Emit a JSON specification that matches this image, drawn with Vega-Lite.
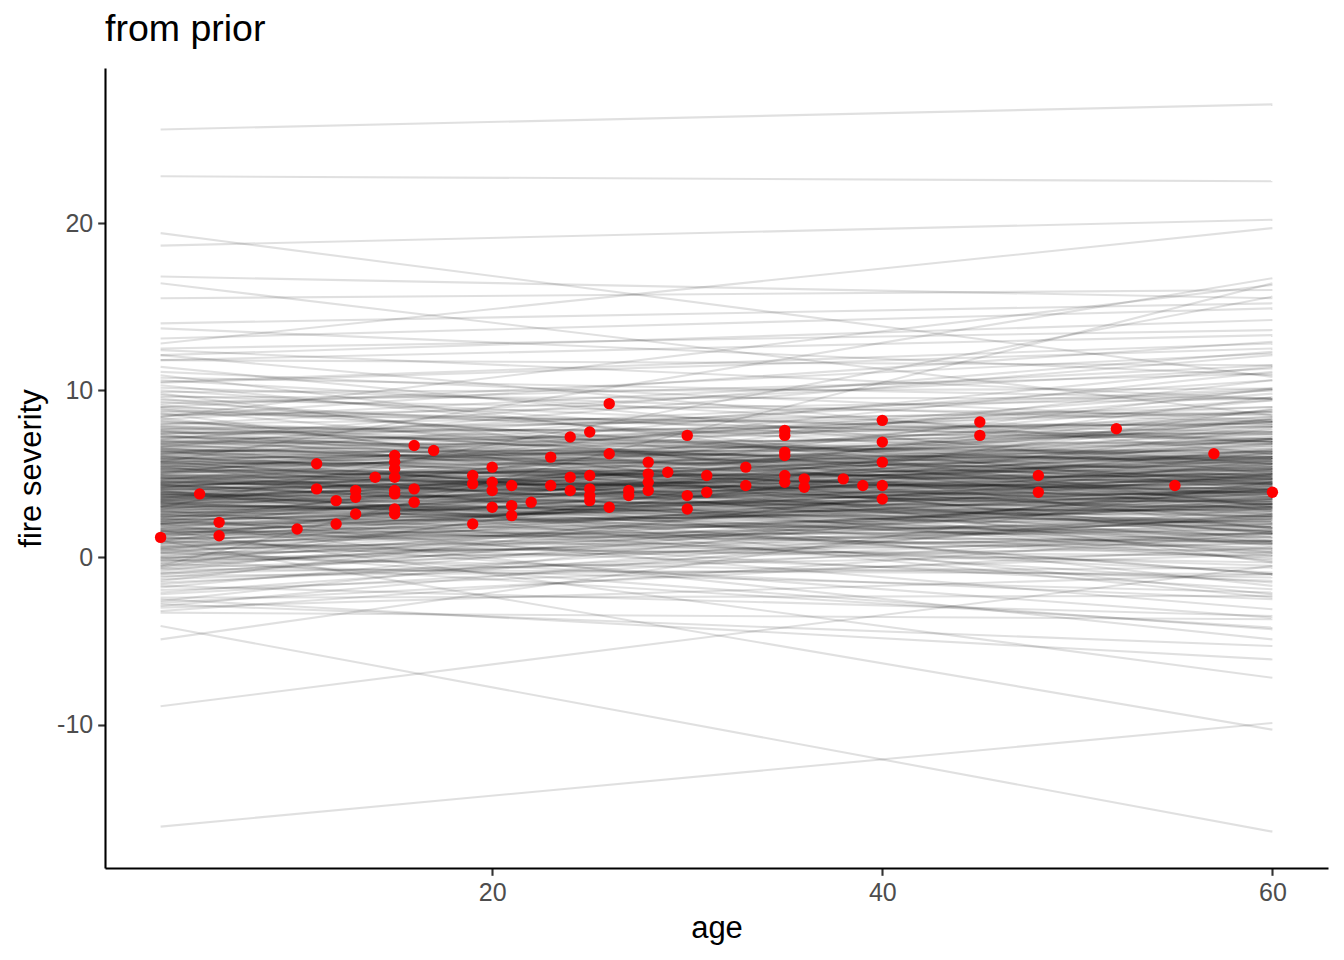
{
"$schema": "https://vega.github.io/schema/vega-lite/v6.json",
"width": 1223, "height": 800,
"autosize": {"type": "none"},
"padding": {"left": 105, "top": 68, "right": 16, "bottom": 92},
"background": "white",
"config": {"view": {"stroke": null}, "font": "Liberation Sans",
 "axis": {"grid": false, "domainColor": "black", "domainWidth": 2.1, "tickColor": "#333333", "tickWidth": 2.1, "tickSize": 7.3, "labelColor": "#4D4D4D", "labelFontSize": 25, "labelFont": "Liberation Sans", "titleFont": "Liberation Sans", "titleFontSize": 31, "titleFontWeight": "normal", "titleColor": "black", "labelPadding": 5}},
"title": {"text": "from prior", "anchor": "start", "frame": "group", "fontSize": 37.5, "fontWeight": "normal", "color": "black", "font": "Liberation Sans", "baseline": "alphabetic", "offset": -10},
"datasets": {
"lines": [
{"a":-3.2,"b":1.4},{"a":-3.0,"b":-1.0},{"a":-2.9,"b":3.0},{"a":-2.7,"b":0.6},{"a":-2.6,"b":4.5},{"a":-2.4,"b":-2.3},{"a":-2.2,"b":1.5},{"a":-2.1,"b":2.6},
{"a":-1.95,"b":0.2},{"a":-1.8,"b":4.3},{"a":-1.7,"b":-3.5},{"a":-1.6,"b":2.5},{"a":-1.5,"b":1.5},{"a":-1.4,"b":6.3},{"a":-1.3,"b":0.9},{"a":-1.2,"b":4.1},{"a":-1.1,"b":-0.6},{"a":-1.0,"b":3.5},
{"a":-0.95,"b":0.3},{"a":-0.9,"b":2.4},{"a":-0.8,"b":5.8},{"a":-0.7,"b":-1.0},{"a":-0.65,"b":1.5},{"a":-0.55,"b":8.9},{"a":-0.5,"b":3.3},{"a":-0.4,"b":-2.1},{"a":-0.35,"b":2.3},{"a":-0.3,"b":5.0},{"a":-0.2,"b":1.0},{"a":-0.15,"b":7.7},{"a":-0.1,"b":-4.2},{"a":-0.05,"b":3.2},
{"a":0.0,"b":-1.2},{"a":0.05,"b":2.5},{"a":0.1,"b":3.6},{"a":0.2,"b":1.2},{"a":0.25,"b":5.2},{"a":0.3,"b":-2.5},{"a":0.35,"b":3.4},{"a":0.4,"b":2.3},{"a":0.45,"b":7.1},{"a":0.5,"b":1.7},{"a":0.55,"b":4.9},{"a":0.6,"b":0.1},{"a":0.65,"b":4.1},{"a":0.7,"b":1.0},{"a":0.75,"b":3.2},{"a":0.8,"b":6.5},{"a":0.85,"b":-0.3},{"a":0.9,"b":2.2},{"a":0.95,"b":9.6},{"a":0.98,"b":4.0},
{"a":1.0,"b":-1.4},{"a":1.05,"b":3.0},{"a":1.1,"b":5.6},{"a":1.15,"b":1.6},{"a":1.2,"b":8.3},{"a":1.25,"b":-3.6},{"a":1.3,"b":3.8},{"a":1.35,"b":3.5},{"a":1.4,"b":1.0},{"a":1.45,"b":4.9},{"a":1.5,"b":2.5},{"a":1.55,"b":6.4},{"a":1.6,"b":-0.5},{"a":1.65,"b":3.2},{"a":1.7,"b":4.3},{"a":1.75,"b":1.9},{"a":1.8,"b":5.9},{"a":1.85,"b":-1.9},{"a":1.9,"b":4.1},{"a":1.95,"b":3.0},{"a":1.98,"b":7.8},{"a":1.12,"b":2.0},{"a":1.38,"b":5.3},{"a":1.62,"b":0.6},{"a":1.78,"b":4.7},{"a":1.52,"b":1.4},
{"a":2.0,"b":3.8},{"a":2.03,"b":7.1},{"a":2.07,"b":0.3},{"a":2.1,"b":2.7},{"a":2.13,"b":10.1},{"a":2.17,"b":4.5},{"a":2.2,"b":-0.9},{"a":2.24,"b":3.5},{"a":2.27,"b":6.2},{"a":2.3,"b":2.1},{"a":2.34,"b":8.8},{"a":2.37,"b":-3.1},{"a":2.4,"b":4.3},{"a":2.44,"b":4.0},{"a":2.47,"b":1.4},{"a":2.5,"b":5.4},{"a":2.53,"b":2.9},{"a":2.57,"b":6.8},{"a":2.6,"b":0.0},{"a":2.63,"b":3.7},{"a":2.67,"b":4.8},{"a":2.7,"b":2.3},{"a":2.74,"b":6.4},{"a":2.77,"b":-1.5},{"a":2.8,"b":4.5},{"a":2.84,"b":3.4},{"a":2.87,"b":8.2},{"a":2.9,"b":2.8},{"a":2.94,"b":6.0},{"a":2.97,"b":1.2},
{"a":3.0,"b":3.2},{"a":3.03,"b":2.5},{"a":3.06,"b":8.3},{"a":3.09,"b":2.1},{"a":3.12,"b":10.6},{"a":3.15,"b":2.5},{"a":3.18,"b":1.8},{"a":3.21,"b":3.9},{"a":3.25,"b":4.7},{"a":3.28,"b":1.3},{"a":3.31,"b":0.8},{"a":3.34,"b":4.0},{"a":3.37,"b":4.7},{"a":3.4,"b":7.2},{"a":3.43,"b":6.7},{"a":3.46,"b":3.0},{"a":3.5,"b":4.4},{"a":3.53,"b":5.1},{"a":3.56,"b":9.4},{"a":3.59,"b":5.9},{"a":3.62,"b":5.2},{"a":3.65,"b":3.8},{"a":3.68,"b":5.6},{"a":3.71,"b":3.5},{"a":3.75,"b":6.8},{"a":3.78,"b":4.6},{"a":3.81,"b":0.5},{"a":3.84,"b":-1.0},{"a":3.87,"b":6.4},{"a":3.9,"b":7.9},{"a":3.93,"b":-0.1},{"a":3.97,"b":-2.4},
{"a":4.0,"b":-1.0},{"a":4.03,"b":5.7},{"a":4.06,"b":5.4},{"a":4.09,"b":5.0},{"a":4.12,"b":4.4},{"a":4.15,"b":8.8},{"a":4.18,"b":8.1},{"a":4.21,"b":7.0},{"a":4.25,"b":6.2},{"a":4.28,"b":7.1},{"a":4.31,"b":1.8},{"a":4.34,"b":11.1},{"a":4.37,"b":-2.2},{"a":4.4,"b":0.8},{"a":4.43,"b":4.1},{"a":4.46,"b":4.9},{"a":4.5,"b":4.5},{"a":4.53,"b":2.4},{"a":4.56,"b":3.2},{"a":4.59,"b":6.7},{"a":4.62,"b":3.9},{"a":4.65,"b":9.8},{"a":4.68,"b":7.8},{"a":4.71,"b":5.3},{"a":4.75,"b":2.9},{"a":4.78,"b":0.3},{"a":4.81,"b":5.0},{"a":4.84,"b":5.7},{"a":4.87,"b":3.6},{"a":4.9,"b":1.6},{"a":4.93,"b":3.3},{"a":4.97,"b":4.0},
{"a":5.0,"b":8.4},{"a":5.03,"b":11.4},{"a":5.07,"b":4.8},{"a":5.1,"b":10.0},{"a":5.13,"b":5.2},{"a":5.17,"b":4.1},{"a":5.2,"b":4.8},{"a":5.24,"b":7.5},{"a":5.27,"b":4.5},{"a":5.3,"b":7.1},{"a":5.34,"b":3.2},{"a":5.37,"b":1.8},{"a":5.4,"b":6.0},{"a":5.44,"b":7.6},{"a":5.47,"b":-1.7},{"a":5.5,"b":2.8},{"a":5.53,"b":8.1},{"a":5.57,"b":6.1},{"a":5.6,"b":-0.2},{"a":5.63,"b":9.4},{"a":5.67,"b":2.4},{"a":5.7,"b":5.4},{"a":5.74,"b":4.4},{"a":5.77,"b":0.7},{"a":5.8,"b":3.7},{"a":5.84,"b":5.8},{"a":5.87,"b":6.9},{"a":5.9,"b":1.5},{"a":5.94,"b":3.8},{"a":5.97,"b":5.9},
{"a":6.0,"b":6.3},{"a":6.04,"b":2.6},{"a":6.08,"b":0.9},{"a":6.12,"b":7.0},{"a":6.15,"b":6.0},{"a":6.19,"b":9.0},{"a":6.23,"b":10.6},{"a":6.27,"b":5.3},{"a":6.31,"b":7.5},{"a":6.35,"b":6.4},{"a":6.38,"b":3.2},{"a":6.42,"b":0.1},{"a":6.46,"b":5.8},{"a":6.5,"b":4.0},{"a":6.54,"b":1.8},{"a":6.58,"b":4.4},{"a":6.62,"b":12.1},{"a":6.65,"b":5.8},{"a":6.69,"b":8.1},{"a":6.73,"b":3.8},{"a":6.77,"b":8.2},{"a":6.81,"b":8.7},{"a":6.85,"b":10.0},{"a":6.88,"b":4.9},{"a":6.92,"b":6.3},{"a":6.96,"b":4.2},
{"a":7.0,"b":5.3},{"a":7.05,"b":12.3},{"a":7.1,"b":7.4},{"a":7.15,"b":10.1},{"a":7.2,"b":6.8},{"a":7.25,"b":5.1},{"a":7.3,"b":4.7},{"a":7.35,"b":1.4},{"a":7.4,"b":9.0},{"a":7.45,"b":8.0},{"a":7.5,"b":5.9},{"a":7.55,"b":2.2},{"a":7.6,"b":3.3},{"a":7.65,"b":8.6},{"a":7.7,"b":6.0},{"a":7.75,"b":7.4},{"a":7.8,"b":4.6},{"a":7.85,"b":7.1},{"a":7.9,"b":4.3},{"a":7.95,"b":11.3},
{"a":8.0,"b":8.7},{"a":8.07,"b":5.4},{"a":8.14,"b":5.5},{"a":8.2,"b":3.6},{"a":8.27,"b":11.5},{"a":8.35,"b":1.0},{"a":8.42,"b":12.9},{"a":8.5,"b":9.5},{"a":8.57,"b":7.8},{"a":8.64,"b":-0.3},{"a":8.71,"b":7.1},{"a":8.78,"b":7.5},{"a":8.86,"b":2.8},{"a":8.93,"b":4.8},
{"a":9.0,"b":6.9},{"a":9.1,"b":4.4},{"a":9.2,"b":11.0},{"a":9.3,"b":5.6},{"a":9.4,"b":8.5},{"a":9.5,"b":3.1},{"a":9.6,"b":9.5},{"a":9.7,"b":6.9},{"a":9.8,"b":1.7},{"a":9.9,"b":10.1},
{"a":10.0,"b":5.6},{"a":10.15,"b":8.1},{"a":10.3,"b":4.0},{"a":10.45,"b":12.5},{"a":10.6,"b":6.9},{"a":10.75,"b":9.5},{"a":10.9,"b":3.0},
{"a":11.1,"b":8.2},{"a":11.4,"b":5.0},{"a":11.8,"b":11.5},{"a":12.1,"b":6.2},{"a":12.4,"b":9.5},
{"a":0.6,"b":3.1},{"a":0.9,"b":1.8},{"a":1.1,"b":4.2},{"a":1.3,"b":2.4},{"a":1.4,"b":5.0},{"a":1.6,"b":3.6},{"a":1.7,"b":0.9},{"a":1.9,"b":2.9},{"a":2.0,"b":5.5},{"a":2.1,"b":1.6},
{"a":2.2,"b":4.0},{"a":2.3,"b":3.1},{"a":2.4,"b":6.0},{"a":2.5,"b":2.2},{"a":2.6,"b":4.6},{"a":2.7,"b":3.9},{"a":2.8,"b":1.0},{"a":2.9,"b":5.1},{"a":3.0,"b":3.6},{"a":3.05,"b":6.3},
{"a":3.1,"b":2.8},{"a":3.2,"b":4.9},{"a":3.25,"b":0.4},{"a":3.3,"b":3.4},{"a":3.35,"b":5.8},{"a":3.4,"b":2.0},{"a":3.45,"b":4.2},{"a":3.5,"b":7.0},{"a":3.55,"b":3.0},{"a":3.6,"b":4.8},
{"a":3.65,"b":1.6},{"a":3.7,"b":5.3},{"a":3.75,"b":3.9},{"a":3.8,"b":6.1},{"a":3.85,"b":2.6},{"a":3.9,"b":4.4},{"a":3.95,"b":0.9},{"a":4.0,"b":5.0},{"a":4.05,"b":3.3},{"a":4.1,"b":6.6},
{"a":4.15,"b":2.1},{"a":4.2,"b":4.7},{"a":4.25,"b":3.7},{"a":4.3,"b":5.6},{"a":4.35,"b":1.2},{"a":4.4,"b":4.3},{"a":4.45,"b":7.4},{"a":4.5,"b":3.0},{"a":4.55,"b":5.2},{"a":4.6,"b":2.6},
{"a":4.7,"b":6.0},{"a":4.75,"b":4.1},{"a":4.8,"b":1.9},{"a":4.9,"b":5.5},{"a":5.0,"b":3.4},{"a":5.1,"b":6.5},{"a":5.2,"b":2.7},{"a":5.3,"b":4.6},{"a":5.4,"b":7.9},{"a":5.5,"b":3.9},
{"a":5.6,"b":5.7},{"a":5.7,"b":1.5},{"a":5.8,"b":4.9},{"a":5.9,"b":6.8},{"a":6.0,"b":3.5},{"a":6.1,"b":5.2},{"a":6.2,"b":8.4},{"a":6.3,"b":2.9},{"a":6.4,"b":5.9},{"a":6.5,"b":4.7},
{"a":6.6,"b":7.3},{"a":6.8,"b":3.1},{"a":7.0,"b":6.2},{"a":7.2,"b":4.5},{"a":7.4,"b":8.0},{"a":0.3,"b":0.8},{"a":-0.2,"b":2.0},{"a":-0.6,"b":3.9},{"a":0.0,"b":0.5},{"a":7.6,"b":5.6},
{"a":25.6,"b":27.1},{"a":22.8,"b":22.5},{"a":18.65,"b":20.2},{"a":19.4,"b":10.8},{"a":12.8,"b":19.7},{"a":16.8,"b":15.5},{"a":16.4,"b":8.5},{"a":15.5,"b":16.0},{"a":-16.1,"b":-9.9},{"a":-4.1,"b":-16.4},{"a":-8.9,"b":-0.5},{"a":-4.9,"b":4.5},{"a":1.0,"b":-10.3},{"a":1.6,"b":-7.2},{"a":14.0,"b":15.2},{"a":13.7,"b":10.9},{"a":13.1,"b":14.9},{"a":12.5,"b":13.6},{"a":12.1,"b":14.2},{"a":11.8,"b":13.3},{"a":5.7,"b":16.7},{"a":8.4,"b":16.3},{"a":-0.5,"b":16.4},{"a":3.0,"b":15.6},{"a":-3.3,"b":-3.7},{"a":-2.8,"b":-5.3},{"a":-2.5,"b":-6.1},{"a":2.0,"b":-4.9},{"a":0.5,"b":-4.3},{"a":10.5,"b":12.8},{"a":9.0,"b":12.2}
],
"fires": [
{"age":3,"severity":1.2},{"age":5,"severity":3.8},{"age":6,"severity":2.1},{"age":6,"severity":1.3},{"age":10,"severity":1.7},{"age":11,"severity":5.6},{"age":11,"severity":4.1},{"age":12,"severity":3.4},{"age":12,"severity":2.0},{"age":13,"severity":4.0},{"age":13,"severity":3.6},{"age":13,"severity":2.6},{"age":14,"severity":4.8},
{"age":15,"severity":6.1},{"age":15,"severity":5.7},{"age":15,"severity":5.3},{"age":15,"severity":4.8},{"age":15,"severity":4.0},{"age":15,"severity":3.8},{"age":15,"severity":2.9},{"age":15,"severity":2.6},
{"age":16,"severity":6.7},{"age":16,"severity":4.1},{"age":16,"severity":3.3},{"age":17,"severity":6.4},{"age":19,"severity":4.9},{"age":19,"severity":4.4},{"age":19,"severity":2.0},{"age":20,"severity":5.4},{"age":20,"severity":4.5},{"age":20,"severity":4.0},{"age":20,"severity":3.0},{"age":21,"severity":4.3},{"age":21,"severity":3.1},{"age":21,"severity":2.5},{"age":22,"severity":3.3},
{"age":23,"severity":6.0},{"age":23,"severity":4.3},{"age":24,"severity":7.2},{"age":24,"severity":4.8},{"age":24,"severity":4.0},{"age":25,"severity":7.5},{"age":25,"severity":4.9},{"age":25,"severity":4.1},{"age":25,"severity":3.7},{"age":25,"severity":3.4},{"age":26,"severity":9.2},{"age":26,"severity":6.2},{"age":26,"severity":3.0},{"age":27,"severity":4.0},{"age":27,"severity":3.7},
{"age":28,"severity":5.7},{"age":28,"severity":5.0},{"age":28,"severity":4.5},{"age":28,"severity":4.0},{"age":29,"severity":5.1},{"age":30,"severity":7.3},{"age":30,"severity":3.7},{"age":30,"severity":2.9},{"age":31,"severity":4.9},{"age":31,"severity":3.9},{"age":33,"severity":5.4},{"age":33,"severity":4.3},
{"age":35,"severity":7.6},{"age":35,"severity":7.3},{"age":35,"severity":6.3},{"age":35,"severity":6.1},{"age":35,"severity":4.9},{"age":35,"severity":4.5},{"age":36,"severity":4.7},{"age":36,"severity":4.2},{"age":38,"severity":4.7},{"age":39,"severity":4.3},
{"age":40,"severity":8.2},{"age":40,"severity":6.9},{"age":40,"severity":5.7},{"age":40,"severity":4.3},{"age":40,"severity":3.5},{"age":45,"severity":8.1},{"age":45,"severity":7.3},{"age":48,"severity":4.9},{"age":48,"severity":3.9},{"age":52,"severity":7.7},{"age":55,"severity":4.3},{"age":57,"severity":6.2},{"age":60,"severity":3.9}
]
},
"layer": [
{"data": {"name": "lines"},
 "mark": {"type": "rule", "color": "black", "opacity": 0.12, "strokeWidth": 2.1},
 "encoding": {
  "x": {"datum": 3, "type": "quantitative", "scale": {"domain": [0.15, 62.85], "nice": false, "zero": false}, "axis": {"values": [20, 40, 60], "title": "age", "titlePadding": 8}},
  "x2": {"datum": 60},
  "y": {"field": "a", "type": "quantitative", "scale": {"domain": [-18.575, 29.275], "nice": false, "zero": false}, "axis": {"values": [-10, 0, 10, 20], "title": "fire severity", "titlePadding": 9, "labelExpr": "datum.value < 0 ? '-' + abs(datum.value) : '' + datum.value"}},
  "y2": {"field": "b"}
 }},
{"data": {"name": "fires"},
 "mark": {"type": "point", "filled": true, "shape": "circle", "size": 130, "color": "#FF0000", "opacity": 1},
 "encoding": {
  "x": {"field": "age", "type": "quantitative", "scale": {"domain": [0.15, 62.85], "nice": false, "zero": false}, "axis": {"values": [20, 40, 60], "title": "age", "titlePadding": 8}},
  "y": {"field": "severity", "type": "quantitative", "scale": {"domain": [-18.575, 29.275], "nice": false, "zero": false}, "axis": {"values": [-10, 0, 10, 20], "title": "fire severity", "titlePadding": 9, "labelExpr": "datum.value < 0 ? '-' + abs(datum.value) : '' + datum.value"}}
 }}
]
}
